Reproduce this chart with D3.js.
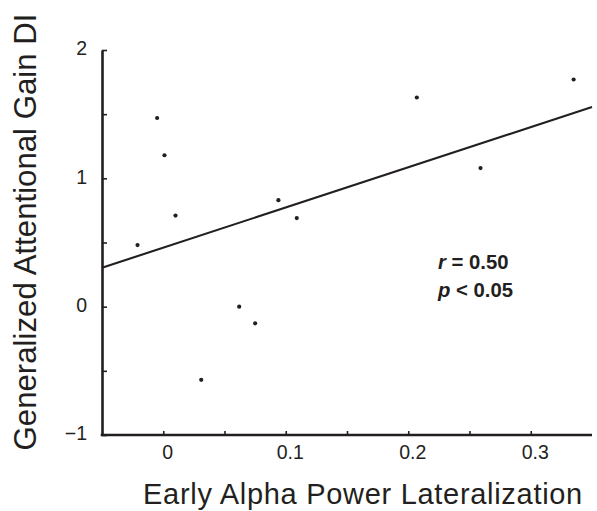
<!DOCTYPE html>
<html>
<head>
<meta charset="utf-8">
<script src="https://cdn.jsdelivr.net/npm/d3@7"></script>
<style>
  html, body { margin: 0; padding: 0; background: #fff; }
  svg { display: block; }
  text { font-family: "Liberation Sans", Arial, Helvetica, sans-serif; fill: #231f20; }
</style>
</head>
<body>
<svg id="chart" width="597" height="511"></svg>
<script>
// ---- data ----
const alphaLat = [-0.021, -0.005, 0.001, 0.010, 0.031, 0.062, 0.075, 0.094, 0.109, 0.207, 0.259, 0.335];
const attnGain = [0.48, 1.47, 1.18, 0.71, -0.57, 0.00, -0.13, 0.83, 0.69, 1.63, 1.08, 1.77];
const xTicks = [0, 0.05, 0.1, 0.15, 0.2, 0.25, 0.3];
const xTickLabels = ["0", "", "0.1", "", "0.2", "", "0.3"];
const yTicks = [-1, -0.5, 0, 0.5, 1, 1.5, 2];
const yTickLabels = ["\u22121", "", "0", "", "1", "", "2"];
const statLines = [["r", " = 0.50"], ["p", " < 0.05"]];
const xTitle = "Early Alpha Power Lateralization";
const yTitle = "Generalized Attentional Gain DI";

const ink = "#231f20";
const svg = d3.select("#chart");

const x = d3.scaleLinear().domain([-0.05, 0.35]).range([102, 592]);
const y = d3.scaleLinear().domain([-1, 2]).range([435, 50]);

// axes
const xAxis = d3.axisBottom(x)
  .tickValues(xTicks)
  .tickFormat((d, i) => xTickLabels[i])
  .tickSizeInner(-4).tickSizeOuter(0).tickPadding(10);
const gx = svg.append("g").attr("transform", `translate(0,${y(-1)})`).call(xAxis);
gx.select(".domain").attr("stroke", ink).attr("stroke-width", 2.6).attr("d", `M${x(-0.05) - 1.3},0H${x(0.35)}`);
gx.selectAll(".tick line").attr("stroke", ink).attr("stroke-width", 1.6);
gx.selectAll(".tick text").attr("font-size", 19.5).attr("fill", ink)
  .attr("font-family", "Liberation Sans, Arial, sans-serif").attr("dx", 4);

const yAxis = d3.axisLeft(y)
  .tickValues(yTicks)
  .tickFormat((d, i) => yTickLabels[i])
  .tickSizeInner(-5).tickSizeOuter(0).tickPadding(15);
const gy = svg.append("g").attr("transform", `translate(${x(-0.05)},0)`).call(yAxis);
gy.select(".domain").attr("stroke", ink).attr("stroke-width", 2.6);
gy.selectAll(".tick line").attr("stroke", ink).attr("stroke-width", 1.6);
gy.selectAll(".tick text").attr("font-size", 19.5).attr("fill", ink)
  .attr("font-family", "Liberation Sans, Arial, sans-serif").attr("dy", "0.24em");

// regression (least squares on the data)
const n = alphaLat.length;
const mx = d3.mean(alphaLat), my = d3.mean(attnGain);
let sxy = 0, sxx = 0;
for (let i = 0; i < n; i++) {
  sxy += (alphaLat[i] - mx) * (attnGain[i] - my);
  sxx += (alphaLat[i] - mx) ** 2;
}
const slope = sxy / sxx, intercept = my - slope * mx;
const fitX = x.domain();
svg.append("path")
  .datum(fitX.map(v => [v, intercept + slope * v]))
  .attr("d", d3.line().x(d => x(d[0])).y(d => y(d[1])))
  .attr("fill", "none").attr("stroke", ink).attr("stroke-width", 2.1);

// points
svg.append("g").selectAll("circle")
  .data(alphaLat.map((v, i) => [v, attnGain[i]]))
  .join("circle")
  .attr("cx", d => x(d[0])).attr("cy", d => y(d[1]))
  .attr("r", 2.1).attr("fill", ink);

// stats text
const stats = svg.append("g");
statLines.forEach((s, i) => {
  const t = stats.append("text")
    .attr("x", 438).attr("y", 269 + i * 28)
    .attr("font-size", 20.3).attr("font-weight", "bold");
  t.append("tspan").attr("font-style", "italic").text(s[0]);
  t.append("tspan").text(s[1]);
});

// titles
svg.append("text")
  .attr("x", 363).attr("y", 504)
  .attr("text-anchor", "middle")
  .attr("font-size", 29).attr("letter-spacing", 0.7)
  .text(xTitle);

svg.append("text")
  .attr("transform", "translate(36,232) rotate(-90)")
  .attr("text-anchor", "middle")
  .attr("font-size", 31.2)
  .text(yTitle);
</script>
</body>
</html>
